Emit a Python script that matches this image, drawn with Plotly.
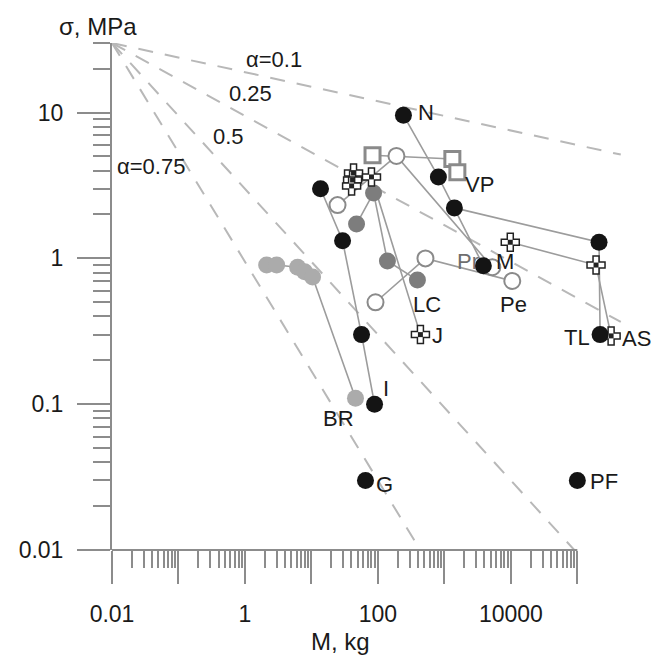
import numpy as np
import plotly.graph_objects as go

FONT = "Liberation Sans, Arial, sans-serif"
TXT = "#1a1a1a"
AXC = "#8c8c8c"
LINEC = "#9c9c9c"

# ---- data: mass M (kg) and stress sigma (MPa) per series ----
n_M = [242, 813, 3855]
n_s = [9.6, 3.62, 0.89]

i_M = [13.7, 29.4, 56.7, 89]
i_s = [3.0, 1.32, 0.30, 0.10]

tl_M = [1413, 212000, 220000]
tl_s = [2.22, 1.29, 0.30]

g_M, g_s = [65], [0.03]
pf_M, pf_s = [1.0e5], [0.03]

br_M = [2.12, 3.0, 6.2, 7.9, 10.4, 46]
br_s = [0.90, 0.90, 0.87, 0.81, 0.745, 0.11]

lc_M = [47.7, 86, 139, 393]
lc_s = [1.72, 2.81, 0.96, 0.71]

pr_M = [24.7, 190, 5260]
pr_s = [2.32, 5.04, 0.87]

pe_M = [92, 519, 10500]
pe_s = [0.50, 1.0, 0.70]

vp_M = [83, 1318, 1567]
vp_s = [5.1, 4.8, 3.9]

j_M = [43, 41.6, 40.2, 80, 436]
j_s = [3.85, 3.45, 3.14, 3.62, 0.30]

as_M = [9800, 191000, 322000]
as_s = [1.29, 0.90, 0.294]

# guide lines sigma = s0 * (M / M0) ** (-alpha)
alphas = [0.1, 0.25, 0.5, 0.75]
alpha_text = ["\u03b1=0.1", "0.25", "0.5", "\u03b1=0.75"]
alpha_text_M = [2.7, 1.22, 0.57, 0.0385]
alpha_text_s = [23.0, 13.6, 6.8, 4.3]
M0, s0 = 0.01, 30.0
M_end = 4.5e5

# point labels: (text, M, sigma, dx px, dy px, colour)
labels = [
    ("N", n_M[0], n_s[0], 23, 3, TXT),
    ("VP", vp_M[2], vp_s[2], 22, -12, TXT),
    ("Pr", pr_M[2], pr_s[2], -24, 6, "#6e6e6e"),
    ("M", n_M[2], n_s[2], 22, 4, TXT),
    ("Pe", pe_M[2], pe_s[2], 1, -24, TXT),
    ("LC", lc_M[3], lc_s[3], 10, -24, TXT),
    ("J", j_M[4], j_s[4], 17, -1, TXT),
    ("TL", tl_M[2], tl_s[2], -23, -3, TXT),
    ("AS", as_M[2], as_s[2], 25, -3, TXT),
    ("I", i_M[3], i_s[3], 11, 16, TXT),
    ("BR", br_M[5], br_s[5], -17, -20, TXT),
    ("G", g_M[0], g_s[0], 19, -4, TXT),
    ("PF", pf_M[0], pf_s[0], 27, -1, TXT),
]

fig = go.Figure()

# dashed guide lines
for a in alphas:
    xs = np.array([M0, M_end])
    ys = s0 * (xs / M0) ** (-a)
    fig.add_trace(go.Scatter(x=xs, y=ys, mode="lines", hoverinfo="skip",
                             line=dict(color="#b8b8b8", width=2, dash="15px,12px")))

# connecting lines under all markers
for xs, ys in [(n_M, n_s), (i_M, i_s), (tl_M, tl_s), (br_M, br_s), (lc_M, lc_s),
               (pr_M, pr_s), (pe_M, pe_s), (vp_M, vp_s), (j_M, j_s), (as_M, as_s)]:
    fig.add_trace(go.Scatter(x=xs, y=ys, mode="lines", hoverinfo="skip",
                             line=dict(color=LINEC, width=1.6)))

def markers(xs, ys, **mk):
    fig.add_trace(go.Scatter(x=xs, y=ys, mode="markers", marker=mk, cliponaxis=False))

markers(br_M, br_s, size=17, color="#ababab", line=dict(width=0))
markers(lc_M, lc_s, size=17, color="#7d7d7d", line=dict(width=0))
markers(pr_M + pe_M, pr_s + pe_s, size=16, color="white", symbol="circle",
        line=dict(color="#8a8a8a", width=2))
markers(vp_M, vp_s, size=15, color="white", symbol="square",
        line=dict(color="#8a8a8a", width=3))
markers(vp_M, vp_s, size=6, color="white", symbol="square-open",
        line=dict(color="#8a8a8a", width=1.5))
markers(j_M + as_M, j_s + as_s, size=15, color="white", symbol="cross",
        line=dict(color="#222222", width=1.5))
markers(j_M + as_M, j_s + as_s, size=5, color="#222222", symbol="square",
        line=dict(width=0))
markers(n_M + i_M + tl_M + g_M + pf_M, n_s + i_s + tl_s + g_s + pf_s,
        size=17, color="#141414", line=dict(width=0))

ann = []
for t, m, s, dx, dy, c in labels:
    ann.append(dict(text=t, x=np.log10(m), y=np.log10(s), xref="x", yref="y",
                    xshift=dx, yshift=dy, showarrow=False,
                    xanchor="center", yanchor="middle",
                    font=dict(family=FONT, size=22, color=c)))
for t, m, s in zip(alpha_text, alpha_text_M, alpha_text_s):
    ann.append(dict(text=t, x=np.log10(m), y=np.log10(s), xref="x", yref="y",
                    showarrow=False, xanchor="center", yanchor="middle",
                    font=dict(family=FONT, size=22, color=TXT)))
ann.append(dict(text="\u03c3, MPa", xref="paper", yref="paper", x=0, y=1,
                xshift=-14, yshift=17, showarrow=False,
                xanchor="center", yanchor="middle",
                font=dict(family=FONT, size=24, color=TXT)))
ann.append(dict(text="M, kg", xref="paper", yref="paper", x=0.424, y=0,
                yshift=-91, showarrow=False, xanchor="center", yanchor="middle",
                font=dict(family=FONT, size=24, color=TXT)))

# tick positions
x_major = [10.0 ** d for d in range(-2, 6)]
x_text = ["0.01", "", "1", "", "100", "", "10000", ""]
x_minor = [k * 10.0 ** d for d in range(-2, 5) for k in range(2, 10)]
y_major = [0.01, 0.1, 1, 10]
y_text = ["0.01", "0.1", "1", "10"]
y_minor = [k * 10.0 ** d for d in range(-2, 1) for k in range(2, 10)] + [20, 30]

fig.update_layout(
    width=651, height=657,
    margin=dict(l=112, r=0, t=43, b=107),
    paper_bgcolor="white", plot_bgcolor="white",
    showlegend=False,
    annotations=ann,
    shapes=[dict(type="line", xref="x", yref="paper", x0=0.01, x1=1e5, y0=0, y1=0,
                 line=dict(color=AXC, width=2))],
    xaxis=dict(type="log", range=[-2, 6.108], showgrid=False, zeroline=False,
               showline=False, ticks="outside", tickvals=x_major, ticktext=x_text,
               ticklen=33, tickwidth=2, tickcolor=AXC, ticklabelstandoff=10,
               tickfont=dict(family=FONT, size=23, color=TXT),
               minor=dict(tickvals=x_minor, ticks="outside", ticklen=17,
                          tickwidth=1.5, tickcolor=AXC, showgrid=False)),
    yaxis=dict(type="log", range=[-2, np.log10(30)], showgrid=False, zeroline=False,
               showline=True, linecolor=AXC, linewidth=2, ticks="outside",
               tickvals=y_major, ticktext=y_text, ticklen=33, tickwidth=2,
               tickcolor=AXC, ticklabelstandoff=9,
               tickfont=dict(family=FONT, size=23, color=TXT),
               minor=dict(tickvals=y_minor, ticks="outside", ticklen=17,
                          tickwidth=1.5, tickcolor=AXC, showgrid=False)),
)

fig.write_html("out.html")
